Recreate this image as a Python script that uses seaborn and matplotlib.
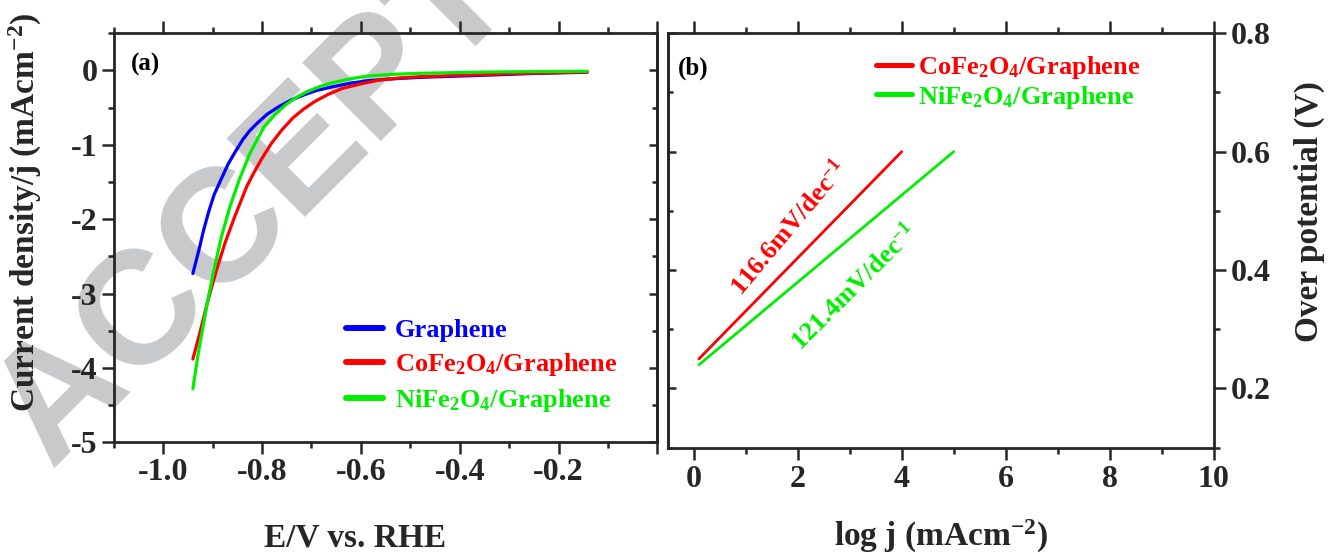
import numpy as np
import pandas as pd
import matplotlib
matplotlib.use("Agg")
import matplotlib.pyplot as plt
import seaborn as sns
from matplotlib.ticker import FixedLocator, MultipleLocator, FuncFormatter

# ---- data ----
# (a) polarisation curves
E_graphene = [-0.940, -0.928, -0.918, -0.908, -0.897, -0.882, -0.868, -0.853,
              -0.839, -0.825, -0.810, -0.790, -0.767, -0.742, -0.716, -0.690,
              -0.658, -0.620, -0.586, -0.530, -0.478, -0.400, -0.333, -0.250,
              -0.142]
j_graphene = [-2.73, -2.42, -2.14, -1.90, -1.67, -1.45, -1.25, -1.08,
              -0.93, -0.81, -0.71, -0.59, -0.49, -0.40, -0.33, -0.27,
              -0.22, -0.17, -0.137, -0.11, -0.092, -0.075, -0.06, -0.04,
              -0.024]

E_cofe = [-0.940, -0.926, -0.909, -0.892, -0.875, -0.855, -0.831, -0.817,
          -0.800, -0.781, -0.760, -0.738, -0.716, -0.694, -0.666, -0.637,
          -0.600, -0.564, -0.520, -0.478, -0.400, -0.333, -0.250, -0.142]
j_cofe = [-3.88, -3.53, -3.08, -2.68, -2.32, -1.96, -1.56, -1.38,
          -1.18, -0.98, -0.80, -0.64, -0.52, -0.42, -0.32, -0.24,
          -0.18, -0.13, -0.10, -0.083, -0.065, -0.05, -0.035, -0.02]

E_nife = [-0.940, -0.929, -0.912, -0.899, -0.882, -0.865, -0.845, -0.825,
          -0.810, -0.796, -0.775, -0.752, -0.730, -0.709, -0.685, -0.658,
          -0.620, -0.586, -0.530, -0.478, -0.400, -0.333, -0.250, -0.142]
j_nife = [-4.28, -3.80, -3.17, -2.73, -2.23, -1.83, -1.45, -1.12,
          -0.93, -0.76, -0.60, -0.46, -0.36, -0.285, -0.22, -0.164,
          -0.11, -0.074, -0.05, -0.038, -0.028, -0.02, -0.015, -0.011]

# (b) Tafel lines
logj_cofe = [0.1, 4.0]
eta_cofe = [0.25, 0.60]
logj_nife = [0.1, 5.0]
eta_nife = [0.24, 0.60]

labels_a = ["Graphene", "CoFe$_2$O$_4$/Graphene", "NiFe$_2$O$_4$/Graphene"]
colors_a = ["#0000ff", "#ff0000", "#00ee00"]
slope_texts = ["116.6mV/dec$^{-1}$", "121.4mV/dec$^{-1}$"]

# ---- style ----
sns.set_style("ticks")
plt.rcParams["font.family"] = ["Liberation Serif", "DejaVu Serif"]
plt.rcParams["font.weight"] = "bold"
plt.rcParams["axes.labelweight"] = "bold"
plt.rcParams["axes.unicode_minus"] = False
plt.rcParams["mathtext.fontset"] = "custom"
plt.rcParams["mathtext.rm"] = "Liberation Serif:bold"
plt.rcParams["mathtext.it"] = "Liberation Serif:bold"
plt.rcParams["mathtext.bf"] = "Liberation Serif:bold"
plt.rcParams["axes.linewidth"] = 2.0
plt.rcParams["text.color"] = "black"

fig = plt.figure(figsize=(13.28, 5.54), dpi=100)
fig.patch.set_facecolor("white")

# watermark behind everything
fig.text(0.252, 0.774, "ACCEPTED", fontsize=116, family="Liberation Sans",
         weight="bold", color="#c8c9cb", rotation=45, ha="center", va="center",
         rotation_mode="anchor", zorder=-5)

ax_a = fig.add_axes([0.0857, 0.2016, 0.4093, 0.7383])
ax_b = fig.add_axes([0.5028, 0.1919, 0.4111, 0.7480])
for ax in (ax_a, ax_b):
    ax.set_facecolor("none")
    for s in ax.spines.values():
        s.set_linewidth(2.0)

# ---- panel (a) ----
df_a = pd.concat([
    pd.DataFrame({"E": E_graphene, "j": j_graphene, "sample": labels_a[0]}),
    pd.DataFrame({"E": E_cofe, "j": j_cofe, "sample": labels_a[1]}),
    pd.DataFrame({"E": E_nife, "j": j_nife, "sample": labels_a[2]}),
])
sns.lineplot(data=df_a, x="E", y="j", hue="sample", palette=colors_a,
             hue_order=labels_a, sort=False, estimator=None, linewidth=2.3,
             legend=False, ax=ax_a)
for ln in ax_a.get_lines():
    ln.set_solid_joinstyle("round")
ax_a.set_xlim(-1.1, 0.0)
ax_a.set_ylim(-5, 0.5)
ax_a.xaxis.set_major_locator(FixedLocator([-1.0, -0.8, -0.6, -0.4, -0.2, 0.0]))
ax_a.xaxis.set_major_formatter(FuncFormatter(lambda v, p: "" if abs(v) < 1e-9 else f"{v:.1f}"))
ax_a.xaxis.set_minor_locator(MultipleLocator(0.1))
ax_a.yaxis.set_major_locator(MultipleLocator(1))
ax_a.yaxis.set_minor_locator(MultipleLocator(0.5))
ax_a.tick_params(which="major", direction="out", length=8.5, width=1.8,
                 labelsize=23, pad=3, top=True, right=False)
ax_a.tick_params(which="minor", direction="out", length=4.5, width=1.8,
                 top=True, right=False)
sec_a = ax_a.secondary_yaxis("right")
sec_a.yaxis.set_major_locator(MultipleLocator(1))
sec_a.yaxis.set_minor_locator(MultipleLocator(0.5))
sec_a.tick_params(which="major", direction="in", length=6, width=1.8, labelright=False)
sec_a.tick_params(which="minor", direction="in", length=3.5, width=1.8)
sec_a.spines["right"].set_linewidth(2.0)

ax_a.set_xlabel("E/V vs. RHE", fontsize=24)
ax_a.set_ylabel("Current density/j (mAcm$^{-2}$)", fontsize=24)
ax_a.xaxis.set_label_coords(0.444, -0.195)
ax_a.yaxis.set_label_coords(-0.128, 0.563)
ax_a.text(0.032, 0.925, "(a)", transform=ax_a.transAxes, fontsize=18,
          ha="left", va="center")

leg_a = ax_a.legend(handles=ax_a.get_lines()[:3], labels=labels_a,
                    loc="upper left", bbox_to_anchor=(0.427, 0.303),
                    frameon=False, fontsize=19, handlelength=1.4,
                    handletextpad=0.45, labelspacing=0.34, borderpad=0,
                    borderaxespad=0, labelcolor="linecolor")
for ln in leg_a.get_lines():
    ln.set_linewidth(4.3)

# ---- panel (b) ----
df_b = pd.concat([
    pd.DataFrame({"logj": logj_cofe, "eta": eta_cofe, "sample": labels_a[1]}),
    pd.DataFrame({"logj": logj_nife, "eta": eta_nife, "sample": labels_a[2]}),
])
sns.lineplot(data=df_b, x="logj", y="eta", hue="sample", palette=colors_a[1:],
             hue_order=labels_a[1:], sort=False, estimator=None, linewidth=2.0,
             legend=False, ax=ax_b)
ax_b.set_xlim(-0.5, 10)
ax_b.set_ylim(0.1, 0.8)
ax_b.xaxis.set_major_locator(MultipleLocator(2))
ax_b.xaxis.set_minor_locator(MultipleLocator(1))
ax_b.yaxis.set_major_locator(MultipleLocator(0.2))
ax_b.yaxis.set_minor_locator(MultipleLocator(0.1))
ax_b.yaxis.tick_right()
ax_b.yaxis.set_label_position("right")
ax_b.tick_params(which="major", direction="out", length=8.5, width=1.8,
                 labelsize=23, pad=4, top=True, left=False, right=True)
ax_b.tick_params(which="minor", direction="out", length=4.5, width=1.8,
                 top=True, left=False, right=True)
sec_b = ax_b.secondary_yaxis("left")
sec_b.yaxis.set_major_locator(MultipleLocator(0.2))
sec_b.yaxis.set_minor_locator(MultipleLocator(0.1))
sec_b.tick_params(which="major", direction="in", length=6, width=1.8, labelleft=False)
sec_b.tick_params(which="minor", direction="in", length=3.5, width=1.8)
sec_b.spines["left"].set_linewidth(2.0)

ax_b.set_xlabel("log j (mAcm$^{-2}$)", fontsize=24)
ax_b.set_ylabel("Over potential (V)", fontsize=24, rotation=90)
ax_b.xaxis.set_label_coords(0.5, -0.17)
ax_b.yaxis.set_label_coords(1.147, 0.569)
ax_b.text(0.019, 0.916, "(b)", transform=ax_b.transAxes, fontsize=18,
          ha="left", va="center")

leg_b = ax_b.legend(handles=ax_b.get_lines()[:2], labels=labels_a[1:],
                    loc="upper left", bbox_to_anchor=(0.382, 0.95),
                    frameon=False, fontsize=19, handlelength=1.35,
                    handletextpad=0.25, labelspacing=0.1, borderpad=0,
                    borderaxespad=0, labelcolor="linecolor")
for ln in leg_b.get_lines():
    ln.set_linewidth(3.6)

ax_b.text(1.83, 0.472, slope_texts[0], color=colors_a[1], fontsize=19,
          rotation=50, ha="center", va="center", rotation_mode="anchor")
ax_b.text(3.08, 0.371, slope_texts[1], color=colors_a[2], fontsize=19,
          rotation=45, ha="center", va="center", rotation_mode="anchor")

fig.savefig("out.png", dpi=100)
